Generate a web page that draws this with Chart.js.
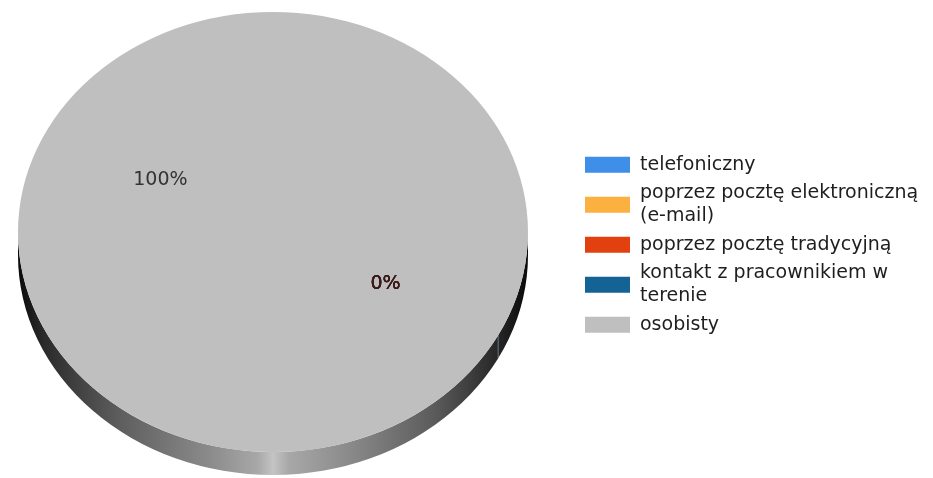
<!DOCTYPE html>
<html>
<head>
<meta charset="utf-8">
<script src="https://cdn.jsdelivr.net/npm/chart.js@4.4.1/dist/chart.umd.min.js"></script>
<style>
  html, body { margin: 0; padding: 0; background: #fff; }
  #pie { display: block; }
</style>
</head>
<body>
<canvas id="pie" width="933" height="478"></canvas>
<script>
// dane z wykresu
const categories = ['telefoniczny', ['poprzez pocztę elektroniczną', '(e-mail)'], 'poprzez pocztę tradycyjną', ['kontakt z pracownikiem w', 'terenie'], 'osobisty'];
const shares = [0, 0, 0, 0, 100];
const sliceColors = ['#3f8fe9', '#fbb040', '#e2410f', '#136395', '#bfbfbf'];
const textColors = ['#3a1a1a', '#3a1a1a', '#3a1a1a', '#3a1a1a', '#333333'];

// wyglad "3D"
const stretch = 255 / 220;  // elipsa zamiast kola
const depth = 23;
const fontFace = '"DejaVu Sans", sans-serif';

const pie3d = {
    id: 'pie3d',
    beforeDatasetsDraw(chart) {
        const ctx = chart.ctx;
        const arcs = chart.getDatasetMeta(0).data;
        const cx = arcs[0].x, cy = arcs[0].y, r = arcs[0].outerRadius;
        const rx = r * stretch;

        ctx.save();
        const g = ctx.createLinearGradient(cx - rx, 0, cx + rx, 0);
        g.addColorStop(0, '#0a0a0a');
        g.addColorStop(0.05, '#2a2a2a');
        g.addColorStop(0.2, '#5e5e5e');
        g.addColorStop(0.38, '#8c8c8c');
        g.addColorStop(0.47, '#a8a8a8');
        g.addColorStop(0.5, '#c4c4c4');
        g.addColorStop(0.53, '#a8a8a8');
        g.addColorStop(0.65, '#8a8a8a');
        g.addColorStop(0.82, '#5a5a5a');
        g.addColorStop(0.95, '#222222');
        g.addColorStop(1, '#0a0a0a');
        ctx.beginPath();
        ctx.moveTo(cx + rx, cy);
        ctx.ellipse(cx, cy + depth, rx, r, 0, 0, Math.PI, false);
        ctx.lineTo(cx - rx, cy);
        ctx.ellipse(cx, cy, rx, r, 0, Math.PI, 0, true);
        ctx.closePath();
        ctx.fillStyle = g;
        ctx.fill();

        // cienka linia tam gdzie zaczynaja sie puste wycinki
        let a = arcs[0].startAngle % (2 * Math.PI);
        if (a > 0 && a < Math.PI) {
            const sx = cx + Math.cos(a) * rx, sy = cy + Math.sin(a) * r;
            ctx.strokeStyle = 'rgba(160,195,205,0.55)';
            ctx.lineWidth = 1;
            ctx.beginPath();
            ctx.moveTo(sx, sy);
            ctx.lineTo(sx, sy + depth);
            ctx.stroke();
        }
        ctx.restore();

        ctx.save();
        ctx.translate(cx, cy);
        ctx.scale(stretch, 1);
        ctx.translate(-cx, -cy);
    },
    afterDatasetsDraw(chart) {
        const ctx = chart.ctx;
        ctx.restore();

        const arcs = chart.getDatasetMeta(0).data;
        const total = shares.reduce((s, v) => s + v, 0);
        ctx.save();
        ctx.font = '19px ' + fontFace;
        ctx.textAlign = 'center';
        ctx.textBaseline = 'middle';
        arcs.forEach((arc, i) => {
            const mid = (arc.startAngle + arc.endAngle) / 2;
            const d = arc.outerRadius * 0.5;
            const x = arc.x + Math.cos(mid) * d * stretch;
            const y = arc.y + Math.sin(mid) * d;
            ctx.fillStyle = textColors[i];
            ctx.fillText(Math.round(shares[i] / total * 100) + '%', x, y);
        });
        ctx.restore();
    }
};

// legenda rysowana recznie (dwie linie dla dlugich nazw)
const sideLegend = {
    id: 'sideLegend',
    afterDraw(chart) {
        const ctx = chart.ctx;
        const left = 585, boxW = 45, boxH = 16, lineH = 23.5, gap = 4.75;
        let top = 153;
        ctx.save();
        ctx.font = '19px ' + fontFace;
        ctx.textBaseline = 'middle';
        ctx.textAlign = 'left';
        categories.forEach((cat, i) => {
            const lines = Array.isArray(cat) ? cat : [cat];
            const h = lines.length * lineH;
            ctx.fillStyle = sliceColors[i];
            ctx.fillRect(left, top + h / 2 - boxH / 2, boxW, boxH);
            ctx.fillStyle = '#1e1e1e';
            lines.forEach((t, k) => ctx.fillText(t, left + boxW + 10, top + lineH * (k + 0.5)));
            top += h + gap;
        });
        ctx.restore();
    }
};

new Chart(document.getElementById('pie'), {
    type: 'pie',
    data: {
        labels: categories,
        datasets: [{
            data: shares,
            backgroundColor: sliceColors,
            borderWidth: 0
        }]
    },
    options: {
        responsive: false,
        animation: false,
        events: [],
        rotation: 118,
        layout: { padding: { top: 12, bottom: 26, left: 0, right: 387 } },
        plugins: {
            legend: { display: false },
            tooltip: { enabled: false }
        }
    },
    plugins: [pie3d, sideLegend]
});
</script>
</body>
</html>
